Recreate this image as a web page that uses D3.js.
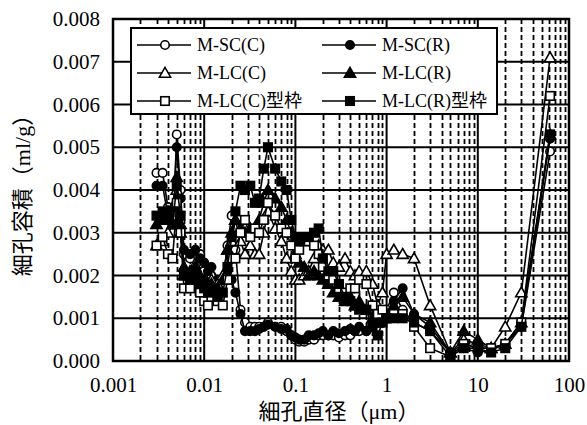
<!DOCTYPE html>
<html>
<head>
<meta charset="utf-8">
<script src="https://cdn.jsdelivr.net/npm/d3@7"></script>
<style>
  body { margin: 0; background: #fff; }
  svg text { font-family: "Liberation Serif", "Noto Sans CJK JP", serif; fill: #000; }
</style>
</head>
<body>
<div id="chart"></div>
<script>
// pore diameter (um), shared by all series
var diameters = [0.003, 0.0035, 0.004, 0.0045, 0.005, 0.0055, 0.006, 0.007, 0.008, 0.009,
  0.01, 0.011, 0.012, 0.014, 0.016, 0.018, 0.02, 0.022, 0.025, 0.028,
  0.032, 0.036, 0.04, 0.045, 0.05, 0.06, 0.07, 0.08, 0.09, 0.1,
  0.11, 0.125, 0.14, 0.16, 0.18, 0.2, 0.23, 0.26, 0.3, 0.35,
  0.4, 0.45, 0.5, 0.6, 0.7, 0.8, 0.9, 1.0, 1.2, 1.5,
  2.0, 3.0, 5.0, 7.0, 10, 14, 20, 30, 62];

// pore volume (ml/g)
var scC = [0.0044, 0.0044, 0.0036, 0.0030, 0.0053, 0.0040, 0.0025, 0.0024, 0.0022, 0.0025,
  0.0021, 0.0019, 0.0020, 0.0018, 0.0019, 0.0027, 0.0034, 0.0026, 0.0012, 0.0009,
  0.0008, 0.0008, 0.0008, 0.0008, 0.0009, 0.0008, 0.0008, 0.0007, 0.0006, 0.0005,
  0.00045, 0.00045, 0.0005, 0.0005, 0.0006, 0.0006, 0.0006, 0.0006, 0.00055, 0.0006,
  0.0006, 0.0007, 0.0007, 0.0007, 0.0009, 0.0010, 0.0011, 0.0012, 0.0016, 0.0012,
  0.0009, 0.0007, 0.0002, 0.0004, 0.0003, 0.0003, 0.0004, 0.0008, 0.0049];
var scR = [0.0041, 0.0041, 0.0034, 0.0032, 0.0050, 0.0038, 0.0026, 0.0025, 0.0026, 0.0024,
  0.0023, 0.0021, 0.0022, 0.0019, 0.0019, 0.0021, 0.0019, 0.0016, 0.0011, 0.0007,
  0.0007, 0.0007, 0.00075, 0.0008, 0.00085, 0.0008, 0.00075, 0.00075, 0.0006, 0.00055,
  0.0005, 0.0005, 0.0006, 0.0006, 0.00065, 0.0007, 0.0006, 0.0007, 0.00065, 0.0007,
  0.00075, 0.0007, 0.0008, 0.0007, 0.0008, 0.0009, 0.0010, 0.0011, 0.0014, 0.0017,
  0.0011, 0.0008, 0.0002, 0.0003, 0.0002, 0.00025, 0.0004, 0.0009, 0.0052];
var lcC = [0.0027, 0.0028, 0.0030, 0.0032, 0.0040, 0.0030, 0.0020, 0.0020, 0.0021, 0.0019,
  0.0017, 0.0018, 0.0019, 0.0018, 0.0020, 0.0026, 0.0028, 0.0033, 0.0028, 0.0025,
  0.0027, 0.0025, 0.0025, 0.0030, 0.0035, 0.0031, 0.0028, 0.0024, 0.0021, 0.0019,
  0.0019, 0.0020, 0.0021, 0.0024, 0.0027, 0.0026, 0.0026, 0.0023, 0.0022, 0.0024,
  0.0021, 0.0020, 0.0021, 0.0021, 0.0018, 0.0013, 0.0016, 0.0025, 0.0026, 0.0025,
  0.0024, 0.0013, 0.0002, 0.0005, 0.0004, 0.0003, 0.0008, 0.0016, 0.0071];
var lcR = [0.0032, 0.0033, 0.0035, 0.0036, 0.0043, 0.0032, 0.0022, 0.0021, 0.0022, 0.0020,
  0.0019, 0.0018, 0.0018, 0.0017, 0.0019, 0.0026, 0.0030, 0.0033, 0.0031, 0.0030,
  0.0031, 0.0030, 0.0033, 0.0037, 0.0040, 0.0038, 0.0036, 0.0033, 0.0030, 0.0025,
  0.0023, 0.0022, 0.0020, 0.0021, 0.0020, 0.0019, 0.0018, 0.0016, 0.0015, 0.0014,
  0.0015, 0.0013, 0.0014, 0.0012, 0.0010, 0.0009, 0.0010, 0.0011, 0.0013, 0.0015,
  0.0011, 0.0009, 0.0002, 0.0007, 0.0005, 0.0003, 0.0004, 0.0009, 0.0053];
var lcCf = [0.0027, 0.0029, 0.0025, 0.0024, 0.0037, 0.0030, 0.0017, 0.0017, 0.0019, 0.0016,
  0.0014, 0.0013, 0.0015, 0.0014, 0.0013, 0.0019, 0.0024, 0.0024, 0.0030, 0.0033,
  0.0029, 0.0031, 0.0030, 0.0033, 0.0037, 0.0034, 0.0031, 0.0030, 0.0027, 0.0024,
  0.0026, 0.0028, 0.0028, 0.0027, 0.0025, 0.0022, 0.0020, 0.0019, 0.0017, 0.0016,
  0.0017, 0.0017, 0.0019, 0.0018, 0.0013, 0.0011, 0.0012, 0.0010, 0.0011, 0.0011,
  0.0008, 0.0003, 0.0001, 0.0004, 0.0003, 0.0003, 0.0004, 0.0009, 0.0062];
var lcRf = [0.0034, 0.0035, 0.0033, 0.0032, 0.0041, 0.0034, 0.0020, 0.0019, 0.0020, 0.0018,
  0.0017, 0.0016, 0.0017, 0.0015, 0.0016, 0.0022, 0.0029, 0.0035, 0.0041, 0.0040,
  0.0041, 0.0037, 0.0038, 0.0045, 0.0050, 0.0045, 0.0042, 0.0040, 0.0033, 0.0029,
  0.0028, 0.0029, 0.0029, 0.0030, 0.0031, 0.0024, 0.0021, 0.0021, 0.0018, 0.0015,
  0.0014, 0.0013, 0.0012, 0.0012, 0.0008, 0.0006, 0.0009, 0.0010, 0.0010, 0.0010,
  0.0009, 0.0007, 0.0001, 0.0003, 0.0003, 0.0002, 0.0003, 0.0008, 0.0053];

var seriesNames = ["M-SC(C)", "M-SC(R)", "M-LC(C)", "M-LC(R)", "M-LC(C)型枠", "M-LC(R)型枠"];
var seriesValues = [scC, scR, lcC, lcR, lcCf, lcRf];
var seriesShapes = ["circle", "circle", "triangle", "triangle", "square", "square"];
var seriesFilled = [false, true, false, true, false, true];

var xTicks = [0.001, 0.01, 0.1, 1, 10, 100];
var xTickLabels = ["0.001", "0.01", "0.1", "1", "10", "100"];
var yTicks = [0, 0.001, 0.002, 0.003, 0.004, 0.005, 0.006, 0.007, 0.008];

var width = 587, height = 425;
var margin = {top: 19, right: 18, bottom: 64, left: 113};
var innerW = width - margin.left - margin.right,
    innerH = height - margin.top - margin.bottom;

var x = d3.scaleLog().domain([0.001, 100]).range([0, innerW]);
var y = d3.scaleLinear().domain([0, 0.008]).range([innerH, 0]);

var svg = d3.select("#chart").append("svg")
  .attr("width", width)
  .attr("height", height);

var g = svg.append("g")
  .attr("transform", "translate(" + margin.left + "," + margin.top + ")");

// minor vertical grid (dashed)
var minor = [];
for (var e = -3; e < 2; e++) {
  for (var m = 2; m <= 9; m++) minor.push(m * Math.pow(10, e));
}
g.selectAll(".minor")
  .data(minor)
  .enter().append("line")
  .attr("class", "minor")
  .attr("x1", function(d) { return Math.round(x(d)) + 0.5; })
  .attr("x2", function(d) { return Math.round(x(d)) + 0.5; })
  .attr("y1", 0).attr("y2", innerH)
  .attr("stroke", "#000")
  .attr("stroke-width", 1.8)
  .attr("stroke-dasharray", "5,3");

// major vertical grid
g.selectAll(".vmajor")
  .data(xTicks)
  .enter().append("line")
  .attr("x1", function(d) { return x(d); })
  .attr("x2", function(d) { return x(d); })
  .attr("y1", 0).attr("y2", innerH)
  .attr("stroke", "#000")
  .attr("stroke-width", 2);

// horizontal grid
g.selectAll(".hgrid")
  .data(yTicks)
  .enter().append("line")
  .attr("x1", 0).attr("x2", innerW)
  .attr("y1", function(d) { return y(d); })
  .attr("y2", function(d) { return y(d); })
  .attr("stroke", "#000")
  .attr("stroke-width", 2);

// axes labels via d3 axes
var xAxis = d3.axisBottom(x).tickValues(xTicks)
  .tickFormat(function(d, i) { return xTickLabels[i]; }).tickSize(0).tickPadding(16);
var yAxis = d3.axisLeft(y).tickValues(yTicks)
  .tickFormat(d3.format(".3f")).tickSize(0).tickPadding(13);

g.append("g").attr("transform", "translate(0," + innerH + ")").call(xAxis)
  .call(function(s) { s.select(".domain").remove(); })
  .selectAll("text").style("font-size", "21px");
g.append("g").call(yAxis)
  .call(function(s) { s.select(".domain").remove(); })
  .selectAll("text").style("font-size", "21px");

// plot frame
g.append("rect")
  .attr("width", innerW).attr("height", innerH)
  .attr("fill", "none").attr("stroke", "#000").attr("stroke-width", 2.5);

function marker(sel, shape, filled, s) {
  var fill = filled ? "#000" : "#fff";
  if (shape === "circle") {
    sel.append("circle").attr("r", s * 0.5)
      .attr("fill", fill).attr("stroke", "#000").attr("stroke-width", 1.6);
  } else if (shape === "square") {
    sel.append("rect").attr("x", -s / 2).attr("y", -s / 2)
      .attr("width", s).attr("height", s)
      .attr("fill", fill).attr("stroke", "#000").attr("stroke-width", 1.6);
  } else {
    var h = s * 1.1;
    sel.append("path")
      .attr("d", "M0," + (-h * 0.6) + "L" + (h * 0.6) + "," + (h * 0.45) + "L" + (-h * 0.6) + "," + (h * 0.45) + "Z")
      .attr("fill", fill).attr("stroke", "#000").attr("stroke-width", 1.6);
  }
}

var line = d3.line()
  .x(function(d) { return x(d[0]); })
  .y(function(d) { return y(d[1]); });

seriesValues.forEach(function(vals, si) {
  var pts = diameters.map(function(d, i) { return [d, vals[i]]; });
  var sg = g.append("g");
  sg.append("path")
    .datum(pts)
    .attr("d", line)
    .attr("fill", "none")
    .attr("stroke", "#000")
    .attr("stroke-width", 1.6);
  sg.selectAll(".pt")
    .data(pts)
    .enter().append("g")
    .attr("transform", function(d) { return "translate(" + x(d[0]) + "," + y(d[1]) + ")"; })
    .each(function() { marker(d3.select(this), seriesShapes[si], seriesFilled[si], 8.5); });
});

// legend
var lg = svg.append("g").attr("transform", "translate(131,28)");
lg.append("rect")
  .attr("width", 366).attr("height", 86)
  .attr("fill", "#fff").attr("stroke", "#000").attr("stroke-width", 2);

seriesNames.forEach(function(name, i) {
  var col = i % 2, row = Math.floor(i / 2);
  var ox = 6 + col * 185, oy = 17 + row * 28;
  var item = lg.append("g").attr("transform", "translate(" + ox + "," + oy + ")");
  item.append("line").attr("x1", 0).attr("x2", 54).attr("y1", 0).attr("y2", 0)
    .attr("stroke", "#000").attr("stroke-width", 1.6);
  var mk = item.append("g").attr("transform", "translate(28,0)");
  marker(mk, seriesShapes[i], seriesFilled[i], 8.5);
  item.append("text").attr("x", 60).attr("y", 6)
    .style("font-size", "18px").text(name);
});

// axis titles
svg.append("text")
  .attr("x", margin.left + innerW / 2 - 2).attr("y", 419)
  .attr("text-anchor", "middle")
  .style("font-size", "22px")
  .text("細孔直径（μm）");

svg.append("text")
  .attr("transform", "translate(30," + (margin.top + innerH / 2) + ") rotate(-90)")
  .attr("text-anchor", "middle")
  .style("font-size", "22px")
  .text("細孔容積（ml/g）");
</script>
</body>
</html>
